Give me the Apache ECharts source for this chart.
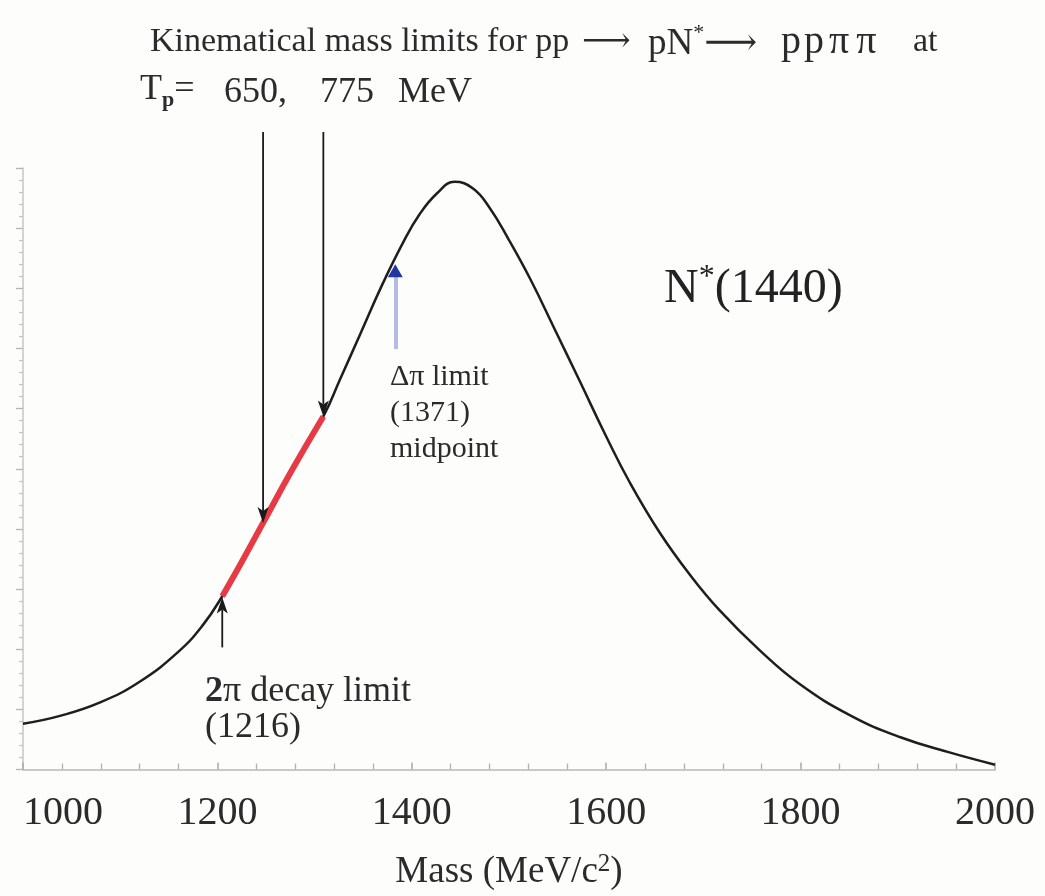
<!DOCTYPE html>
<html>
<head>
<meta charset="utf-8">
<script src="https://cdn.jsdelivr.net/npm/echarts@6/dist/echarts.min.js"></script>
<style>
html,body{margin:0;padding:0;background:#fdfdfb;}
#chart{width:1045px;height:896px;}
</style>
</head>
<body>
<div id="chart"></div>
<script>
// ---- data ----
var mass = [1000, 1040, 1080, 1120, 1160, 1185, 1205, 1225, 1247, 1275, 1309, 1326, 1347, 1369, 1391, 1408, 1426, 1444, 1463, 1480, 1499, 1522, 1547, 1573, 1599, 1624, 1655, 1686, 1717, 1758, 1799, 1851, 1902, 1954, 2000];
var intensity = [7.6, 9.0, 11.2, 14.6, 19.6, 24.0, 28.8, 34.5, 41.0, 49.3, 58.7, 64.8, 72.4, 80.4, 87.6, 92.3, 95.8, 97.7, 96.6, 93.4, 88.3, 81.5, 73.2, 64.5, 55.7, 47.8, 39.4, 32.4, 26.4, 19.8, 14.2, 9.0, 5.4, 2.8, 0.8];
var redRange = [1205, 1309];             // highlighted region between limits
var beamArrowMass = [1247, 1309];        // Tp = 650, 775 MeV arrows
var beamArrowTip = [41.0, 58.7];
var beamArrowTop = 106;
var decayArrow = {mass: 1205, from: 20.3, to: 28.6};
var deltaArrow = {mass: 1383, from: 69.9, to: 84.0};
var xTicks = {min: 1000, max: 2000, step: 200};

var curve = mass.map(function (m, i) { return [m, intensity[i]]; });
var redPart = curve.filter(function (p) { return p[0] >= redRange[0] && p[0] <= redRange[1]; });

var serif = '"Liberation Serif", "DejaVu Serif", serif';
var txt = '#2b2b2b';

var chart = echarts.init(document.getElementById('chart'));

function t(id, left, top, text, size, extra) {
  var st = {text: text, fontFamily: serif, fontSize: size, fill: txt};
  if (extra) { for (var k in extra) st[k] = extra[k]; }
  return {type: 'text', id: id, left: left, top: top, style: st};
}
var supRich = function (size, line) {
  return {
    a: {fontFamily: serif, fontSize: size, fill: txt, lineHeight: line},
    s: {fontFamily: serif, fontSize: Math.round(size * 0.6), fill: txt, verticalAlign: 'top', lineHeight: line},
    b: {fontFamily: serif, fontSize: Math.round(size * 0.62), fontWeight: 'bold', fill: txt, verticalAlign: 'bottom', lineHeight: line}
  };
};

var texts = [
  // title line 1
  t('t1a', 150, 25, 'Kinematical mass limits for pp', 34),
  t('t1b', 582, 25, '\u27F6', 34),
  {type: 'text', id: 't1c', left: 648, top: 22, style: {text: '{a|pN}{s|*}{a|\u27F6}', rich: supRich(37, 44)}},
  {type: 'text', id: 't1e', left: 780, top: 22, style: {text: '{p|p}{p|p}{q|\u03c0}{q|\u03c0}', rich: {
    p: {fontFamily: serif, fontSize: 40, fill: txt, lineHeight: 44, padding: [0, 2, 0, 1]},
    q: {fontFamily: serif, fontSize: 40, fill: txt, lineHeight: 44, padding: [0, 4, 0, 3]}}}},
  t('t1f', 913, 25, 'at', 34),
  // title line 2
  {type: 'text', id: 't2a', left: 140, top: 72, style: {text: '{a|T}{b|p}{a|=}', rich: supRich(36, 42)}},
  t('t2b', 224, 75, '650,', 36),
  t('t2c', 320, 75, '775', 36),
  t('t2d', 398, 75, 'MeV', 36),
  // labels
  {type: 'text', id: 't3', left: 664, top: 262, style: {text: '{a|N}{s|*}{a|(1440)}', rich: {
    a: {fontFamily: serif, fontSize: 48, fill: '#222', lineHeight: 54},
    s: {fontFamily: serif, fontSize: 32, fill: '#222', verticalAlign: 'top', lineHeight: 54}}}},
  t('t4', 390, 359, '\u0394\u03c0 limit\n(1371)\nmidpoint', 30, {lineHeight: 36}),
  {type: 'text', id: 't5', left: 205, top: 674, style: {
    text: '{b|2}{a|\u03c0 decay limit}\n{a|(1216)}',
    rich: {
      a: {fontFamily: serif, fontSize: 36, fill: txt, lineHeight: 36},
      b: {fontFamily: serif, fontSize: 36, fontWeight: 'bold', fill: txt, lineHeight: 36}
    }}}
];

var option = {
  backgroundColor: '#fdfdfb',
  animation: false,
  grid: {left: 23, right: 50, top: 168, bottom: 120, containLabel: false},
  xAxis: {
    type: 'value', min: xTicks.min, max: xTicks.max, interval: xTicks.step,
    axisLine: {lineStyle: {color: '#c9c9c9', width: 2}},
    axisTick: {inside: true, length: 7, lineStyle: {color: '#a8a8a8', width: 1.5}},
    minorTick: {show: true, splitNumber: 5, length: 6, lineStyle: {color: '#b0b0b0', width: 1.3}},
    splitLine: {show: false},
    axisLabel: {fontFamily: serif, fontSize: 40, color: txt, margin: 24, alignMinLabel: 'left',
      formatter: function (v) { return String(v); }},
    name: '{a|Mass (MeV/c}{s|2}{a|)}',
    nameLocation: 'middle', nameGap: 82,
    nameTextStyle: {
      rich: {
        a: {fontFamily: serif, fontSize: 37, color: txt, lineHeight: 42},
        s: {fontFamily: serif, fontSize: 25, color: txt, verticalAlign: 'top', lineHeight: 42}
      }
    }
  },
  yAxis: {
    type: 'value', min: 0, max: 100, interval: 10,
    axisLine: {show: true, lineStyle: {color: '#c6c6c6', width: 1.5}},
    axisTick: {show: true, inside: false, length: 7, lineStyle: {color: '#b5b5b5', width: 1.3}},
    minorTick: {show: true, splitNumber: 5, length: 4, lineStyle: {color: '#c2c2c2', width: 1.2}},
    axisLabel: {show: false},
    splitLine: {show: false}
  },
  series: [
    {
      type: 'line', data: curve, smooth: 0.45, symbol: 'none',
      lineStyle: {color: '#1e1e1e', width: 2.5}
    },
    {
      type: 'line', data: redPart, smooth: 0.45, symbol: 'none', z: 3,
      lineStyle: {color: '#e63a44', width: 6}
    },
    {
      type: 'line', data: [], clip: false, z: 4,
      markLine: {
        silent: true, animation: false, symbol: 'none',
        label: {show: false},
        lineStyle: {color: '#b4bbe4', width: 4, type: 'solid'},
        emphasis: {disabled: true},
        data: [[{coord: [deltaArrow.mass, deltaArrow.from]}, {coord: [deltaArrow.mass, deltaArrow.to - 1.5]}]]
      },
      markPoint: {
        silent: true, animation: false,
        symbol: 'triangle', symbolSize: [15, 13], symbolOffset: [0, '50%'],
        itemStyle: {color: '#2436a3'},
        label: {show: false},
        data: [{coord: [deltaArrow.mass, deltaArrow.to]}]
      }
    }
  ],
  graphic: texts
};
chart.setOption(option);

// black arrows placed through the chart's own scales
function arrow(id, fromVal, toVal) {
  var a = chart.convertToPixel({gridIndex: 0}, fromVal);
  var b = chart.convertToPixel({gridIndex: 0}, toVal);
  var dir = b[1] > a[1] ? 1 : -1;
  var x = b[0], y = b[1];
  var hl = 16, hw = 5.5;
  return [
    {type: 'line', id: id + 'l', silent: true, z: 10,
      shape: {x1: a[0], y1: a[1], x2: x, y2: y - dir * (hl - 4)},
      style: {stroke: '#1a1a1a', lineWidth: 1.8}},
    {type: 'polygon', id: id + 'h', silent: true, z: 10,
      shape: {points: [[x, y], [x - hw, y - dir * hl], [x, y - dir * (hl - 4)], [x + hw, y - dir * hl]]},
      style: {fill: '#1a1a1a'}}
  ];
}
var arrows = [];
beamArrowMass.forEach(function (m, i) {
  arrows = arrows.concat(arrow('b' + i, [m, beamArrowTop], [m, beamArrowTip[i]]));
});
arrows = arrows.concat(arrow('d', [decayArrow.mass, decayArrow.from], [decayArrow.mass, decayArrow.to]));
chart.setOption({graphic: texts.concat(arrows)});
</script>
</body>
</html>
